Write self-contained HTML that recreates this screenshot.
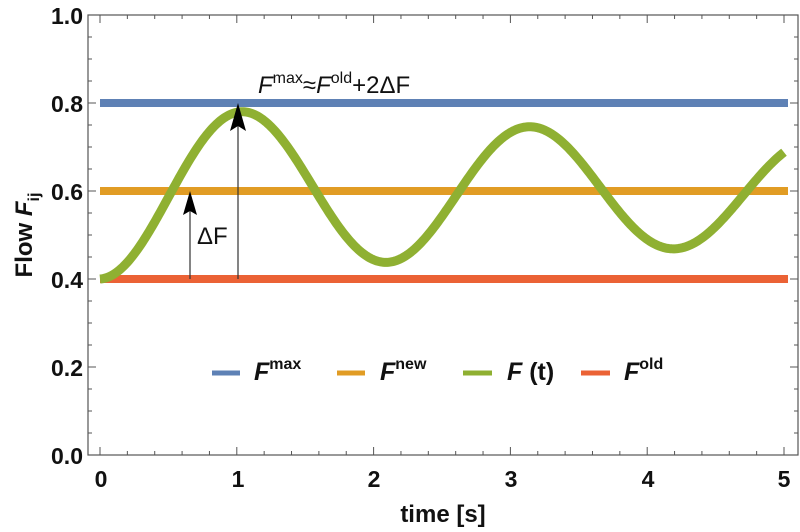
<!DOCTYPE html>
<html><head><meta charset="utf-8"><style>
html,body{margin:0;padding:0;background:#fff;}
svg{display:block;font-family:"Liberation Sans",sans-serif;}
.tl{font-size:23px;font-weight:bold;fill:#111;}
</style></head><body>
<svg width="800" height="532" viewBox="0 0 800 532" xmlns="http://www.w3.org/2000/svg">
<rect x="88" y="15" width="710" height="440" fill="none" stroke="#555" stroke-width="1.2"/>
<g id="ticks" stroke="#555" stroke-width="1"></g>
<!-- horizontal lines -->
<line x1="100" y1="103" x2="788" y2="103" stroke="#5E81B5" stroke-width="8"/>
<line x1="100" y1="191" x2="788" y2="191" stroke="#E19C24" stroke-width="8"/>
<line x1="100" y1="279" x2="788" y2="279" stroke="#EB6235" stroke-width="8"/>
<path id="curve" fill="none" stroke="#8FB032" stroke-width="9" stroke-linecap="butt"/>
<!-- arrows -->
<line x1="190" y1="279" x2="190" y2="210" stroke="#333" stroke-width="1.2"/>
<polygon points="190,191 183,215 190,211 197,215" fill="#000"/>
<line x1="238" y1="279" x2="238" y2="122" stroke="#333" stroke-width="1.2"/>
<polygon points="238,103 230,131 238,126 246,131" fill="#000"/>
<text x="197" y="244" font-size="24" fill="#111">ΔF</text>
<text x="258" y="93" font-size="24" fill="#111"><tspan font-style="italic">F</tspan><tspan font-size="16" dy="-10">max</tspan><tspan dy="10">≈</tspan><tspan font-style="italic">F</tspan><tspan font-size="16" dy="-10">old</tspan><tspan dy="10">+2ΔF</tspan></text>
<!-- legend -->
<line x1="212" y1="373" x2="240" y2="373" stroke="#5E81B5" stroke-width="5"/>
<text x="254" y="380" font-size="25" font-weight="bold" fill="#111"><tspan font-style="italic">F</tspan><tspan font-size="16" dy="-11">max</tspan></text>
<line x1="337" y1="373" x2="365" y2="373" stroke="#E19C24" stroke-width="5"/>
<text x="380" y="380" font-size="25" font-weight="bold" fill="#111"><tspan font-style="italic">F</tspan><tspan font-size="16" dy="-11">new</tspan></text>
<line x1="463" y1="373" x2="492" y2="373" stroke="#8FB032" stroke-width="5"/>
<text x="507" y="380" font-size="25" font-weight="bold" fill="#111"><tspan font-style="italic">F</tspan> (t)</text>
<line x1="581" y1="373" x2="610" y2="373" stroke="#EB6235" stroke-width="5"/>
<text x="624" y="380" font-size="25" font-weight="bold" fill="#111"><tspan font-style="italic">F</tspan><tspan font-size="16" dy="-11">old</tspan></text>
<!-- tick labels -->
<g class="tl" text-anchor="end">
<text x="83" y="24">1.0</text><text x="83" y="112">0.8</text><text x="83" y="200">0.6</text>
<text x="83" y="288">0.4</text><text x="83" y="376">0.2</text><text x="83" y="464">0.0</text>
</g>
<g class="tl" text-anchor="middle">
<text x="101" y="487">0</text><text x="238" y="487">1</text><text x="374" y="487">2</text>
<text x="511" y="487">3</text><text x="648" y="487">4</text><text x="784" y="487">5</text>
</g>
<text x="443" y="522" text-anchor="middle" font-size="24" font-weight="bold" fill="#111">time [s]</text>
<text transform="translate(32,235) rotate(-90)" text-anchor="middle" font-size="24" font-weight="bold" fill="#111">Flow <tspan font-style="italic">F</tspan><tspan font-size="16" dy="7">ij</tspan></text>
</svg>
<script>
var px=t=>100+t*136.8, py=F=>455-F*440;
var d="";for(var i=0;i<=500;i++){var t=i/100;var F=0.6-0.2*Math.exp(-0.1*t)*Math.cos(2.99*t);d+=(i?"L":"M")+px(t).toFixed(2)+","+py(F).toFixed(2);}
document.getElementById("curve").setAttribute("d",d);
var g=document.getElementById("ticks"),s="";
for(var k=0;k<=25;k++){var x=px(k*0.2),L=(k%5==0)?8:4;s+=`<line x1="${x}" y1="455" x2="${x}" y2="${455-L}"/><line x1="${x}" y1="15" x2="${x}" y2="${15+L}"/>`;}
for(var k=0;k<=20;k++){var y=py(k*0.05),L=(k%4==0)?8:4;s+=`<line x1="88" y1="${y}" x2="${88+L}" y2="${y}"/><line x1="798" y1="${y}" x2="${798-L}" y2="${y}"/>`;}
g.innerHTML=s;
</script>
</body></html>
